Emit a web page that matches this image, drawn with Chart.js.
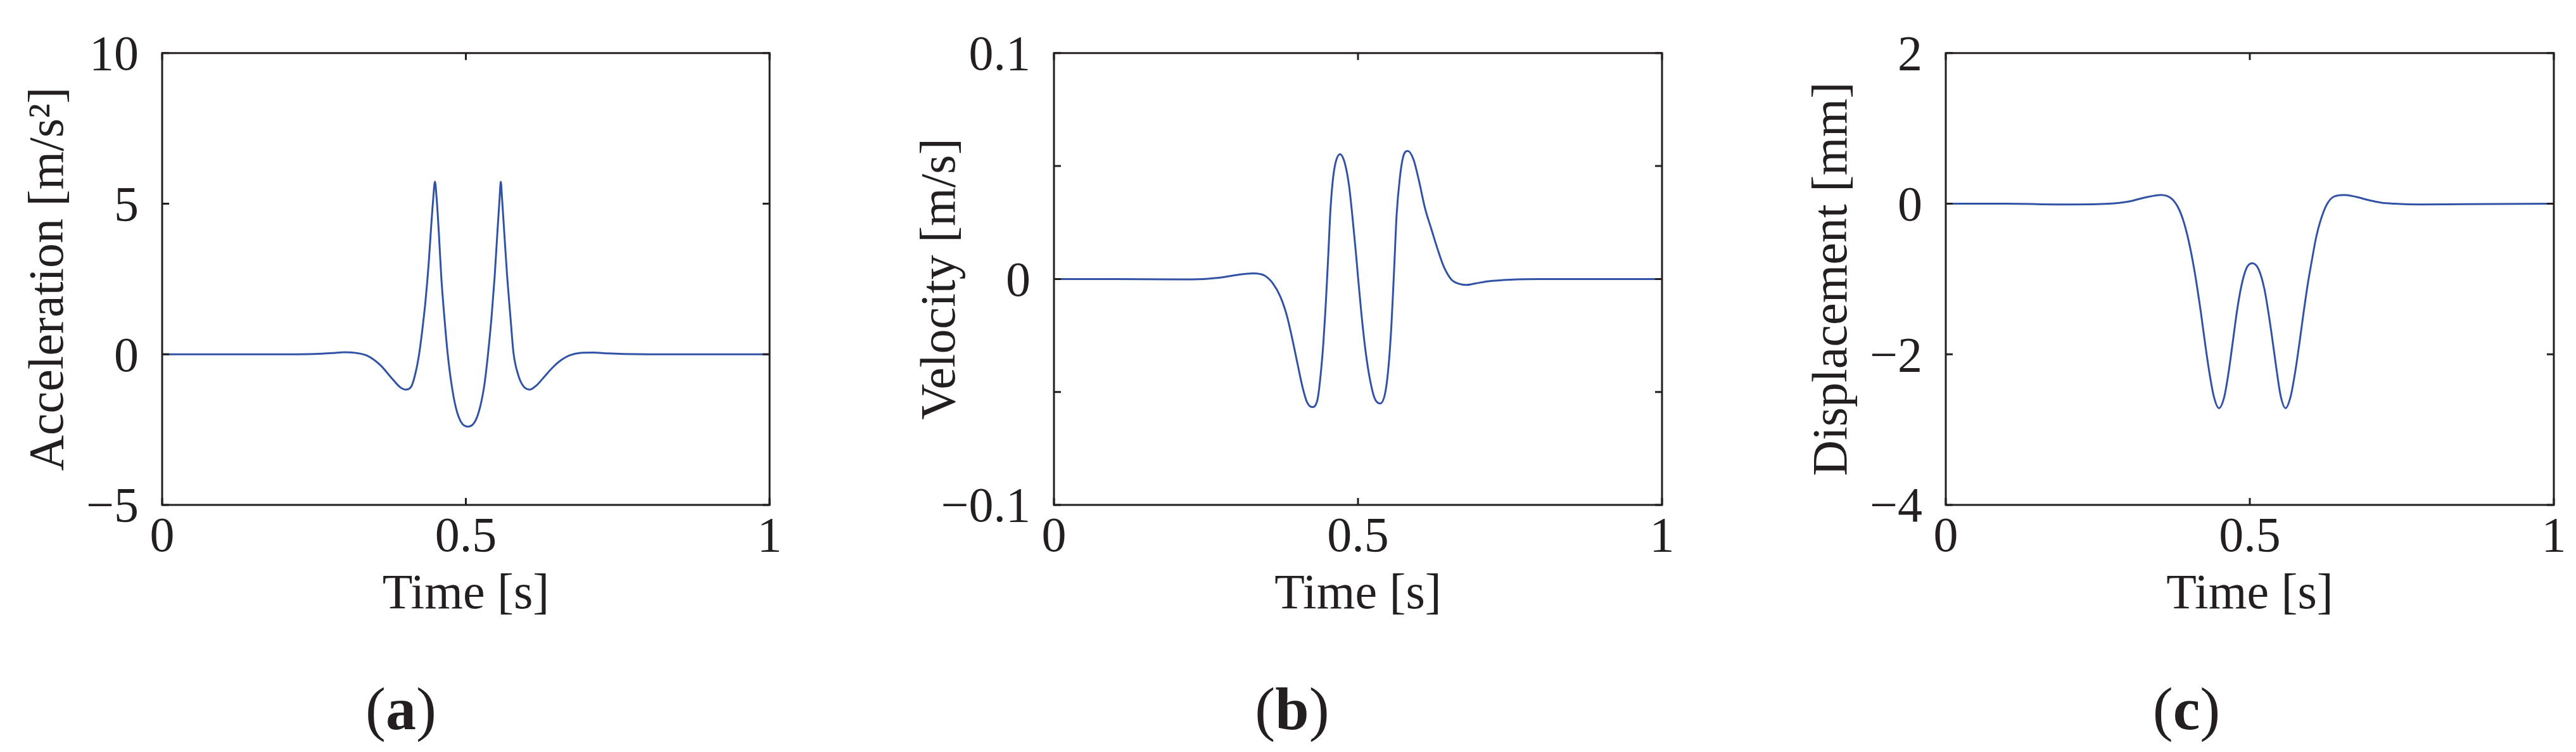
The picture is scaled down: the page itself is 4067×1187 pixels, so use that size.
<!DOCTYPE html>
<html>
<head>
<meta charset="utf-8">
<script src="https://cdn.jsdelivr.net/npm/chart.js@4.4.1/dist/chart.umd.min.js"></script>
<style>
  html, body { margin: 0; padding: 0; background: #fff; }
  body { width: 4067px; height: 1187px; position: relative; overflow: hidden; }
  canvas { position: absolute; top: 0; }
  .tag { position: absolute; top: 1119px; transform: translate(-50%, -50%); font-family: 'Liberation Serif', serif; font-size: 96px; line-height: 1; color: #231f20; white-space: nowrap; }
</style>
</head>
<body>
<canvas id="accChart" width="1408" height="1187" style="left:0px"></canvas>
<canvas id="velChart" width="1408" height="1187" style="left:1408px"></canvas>
<canvas id="dispChart" width="1251" height="1187" style="left:2816px"></canvas>
<div class="tag" style="left:633px">(<b>a</b>)</div>
<div class="tag" style="left:2040px">(<b>b</b>)</div>
<div class="tag" style="left:3452px">(<b>c</b>)</div>
<script>
// values
var timeTicks = [0, 0.5, 1]
var timeTickLabels = ['0', '0.5', '1']

var accTime = [0, 0.1, 0.2, 0.25, 0.28, 0.3, 0.317, 0.338, 0.3587, 0.3796,
  0.3917, 0.4004, 0.4101, 0.4178, 0.423, 0.4283, 0.4335, 0.4387, 0.4428, 0.4463,
  0.4491, 0.4519, 0.4554, 0.4595, 0.4647, 0.4699, 0.4762, 0.4838, 0.4925, 0.5036,
  0.5151, 0.5238, 0.5308, 0.5367, 0.5422, 0.5474, 0.552, 0.5555, 0.5575, 0.5596,
  0.5631, 0.568, 0.5735, 0.5784, 0.5863, 0.5951, 0.6055, 0.6159, 0.6298, 0.6437,
  0.6577, 0.6715, 0.689, 0.71, 0.734, 0.76, 0.8, 0.9, 1]
var accel = [0, 0, 0, 0.01, 0.04, 0.07, 0.05, -0.05, -0.35, -0.83,
  -1.09, -1.17, -1.07, -0.56, 0, 0.81, 1.76, 2.99, 4.22, 5.17,
  5.73, 5.17, 4.08, 2.58, 1.21, 0.05, -0.97, -1.79, -2.26, -2.40,
  -2.23, -1.72, -0.97, 0.05, 1.21, 2.58, 4.08, 5.17, 5.73, 5.17,
  4.08, 2.58, 1.21, 0.05, -0.69, -1.07, -1.17, -1.04, -0.73, -0.42,
  -0.18, -0.03, 0.05, 0.06, 0.03, 0.01, 0, 0, 0]
var accTicks = [-5, 0, 5, 10]
var accTickLabels = ['\u22125', '0', '5', '10']

var velTime = [0, 0.1, 0.2, 0.2458, 0.2806, 0.3014, 0.3274, 0.3465, 0.3604, 0.3726,
  0.383, 0.3917, 0.4003, 0.409, 0.416, 0.4247, 0.4333, 0.4385, 0.4431, 0.4465,
  0.449, 0.4514, 0.4542, 0.4583, 0.4628, 0.4705, 0.4785, 0.4854, 0.4906, 0.4958,
  0.5003, 0.5056, 0.5115, 0.5184, 0.5271, 0.5365, 0.5451, 0.5507, 0.5549, 0.5576,
  0.5601, 0.5635, 0.5688, 0.574, 0.5819, 0.5913, 0.6, 0.6104, 0.6208, 0.6313,
  0.6417, 0.6538, 0.666, 0.6781, 0.6938, 0.7146, 0.75, 0.8, 0.9, 1]
var velocity = [0, 0, -0.0002, 0, 0.0009, 0.0018, 0.0025, 0.0015, -0.0021, -0.008,
  -0.0162, -0.0262, -0.0372, -0.0481, -0.0544, -0.0567, -0.0535, -0.0426, -0.0281, -0.0135,
  -0.0008, 0.012, 0.0283, 0.0429, 0.0511, 0.0552, 0.0511, 0.0411, 0.0283, 0.0138,
  0.0001, -0.0153, -0.0299, -0.0426, -0.0526, -0.0551, -0.0499, -0.0372, -0.0208, -0.0062,
  0.0083, 0.0283, 0.0447, 0.0538, 0.0567, 0.0529, 0.0438, 0.0311, 0.022, 0.0129,
  0.0051, -0.0003, -0.0021, -0.0026, -0.0019, -0.001, -0.0003, 0, 0, 0]
var velTicks = [-0.1, -0.05, 0, 0.05, 0.1]
var velTickLabels = ['\u22120.1', '', '0', '', '0.1']

var dispTime = [0, 0.1, 0.2, 0.2688, 0.3, 0.3278, 0.3538, 0.3712, 0.3833, 0.392,
  0.399, 0.4059, 0.4128, 0.4198, 0.4267, 0.4337, 0.4406, 0.4493, 0.458, 0.4649,
  0.4719, 0.4788, 0.4858, 0.4944, 0.5042, 0.5146, 0.524, 0.5309, 0.5378, 0.5448,
  0.5507, 0.5587, 0.5674, 0.5743, 0.5813, 0.5882, 0.5951, 0.6021, 0.609, 0.616,
  0.6264, 0.6385, 0.6559, 0.675, 0.6958, 0.7167, 0.7375, 0.78, 0.85, 1]
var displacement = [0, 0, -0.01, 0, 0.027, 0.082, 0.117, 0.068, -0.069, -0.259,
  -0.478, -0.751, -1.078, -1.46, -1.87, -2.251, -2.551, -2.715, -2.565, -2.251,
  -1.842, -1.432, -1.105, -0.859, -0.791, -0.873, -1.133, -1.46, -1.842, -2.251,
  -2.551, -2.715, -2.551, -2.251, -1.87, -1.46, -1.078, -0.751, -0.45, -0.232,
  -0.014, 0.095, 0.117, 0.09, 0.046, 0.013, 0, -0.01, -0.005, 0]
var dispTicks = [-4, -2, 0, 2]
var dispTickLabels = ['\u22124', '\u22122', '0', '2']

var INK = '#231f20'
var CURVE = '#3253a5'
var FONT = 'Liberation Serif'

// matlab style box with inward ticks on all four sides
var boxTicks = {
  id: 'boxTicks',
  afterDatasetsDraw: function (chart) {
    var ctx = chart.ctx
    var a = chart.chartArea
    var xs = chart.scales.x
    var ys = chart.scales.y
    var len = 11
    ctx.save()
    ctx.strokeStyle = INK
    ctx.lineWidth = 3
    ctx.beginPath()
    xs.ticks.forEach(function (t) {
      var px = xs.getPixelForValue(t.value)
      ctx.moveTo(px, a.bottom); ctx.lineTo(px, a.bottom - len)
      ctx.moveTo(px, a.top); ctx.lineTo(px, a.top + len)
    })
    ys.ticks.forEach(function (t) {
      var py = ys.getPixelForValue(t.value)
      ctx.moveTo(a.left, py); ctx.lineTo(a.left + len, py)
      ctx.moveTo(a.right, py); ctx.lineTo(a.right - len, py)
    })
    ctx.stroke()
    ctx.strokeRect(a.left, a.top, a.right - a.left, a.bottom - a.top)
    ctx.restore()
  }
}

function makePanel (id, time, values, yTicks, yLabels, yTitle, rightPad) {
  var points = time.map(function (t, i) { return {x: t, y: values[i]} })
  return new Chart(document.getElementById(id), {
    type: 'line',
    data: {
      datasets: [{
        data: points,
        borderColor: CURVE,
        borderWidth: 3,
        pointRadius: 0,
        fill: false,
        cubicInterpolationMode: 'monotone'
      }]
    },
    options: {
      responsive: false,
      animation: false,
      devicePixelRatio: 1,
      layout: { padding: { left: 0, top: 64, right: rightPad, bottom: 0 } },
      plugins: { legend: { display: false }, tooltip: { enabled: false } },
      scales: {
        x: {
          type: 'linear',
          min: timeTicks[0],
          max: timeTicks[timeTicks.length - 1],
          afterBuildTicks: function (s) { s.ticks = timeTicks.map(function (v) { return {value: v} }) },
          afterFit: function (s) { s.height = 390 },
          grid: { display: false, drawTicks: false },
          border: { display: false },
          ticks: {
            autoSkip: false,
            maxRotation: 0,
            padding: 6,
            color: INK,
            font: { family: FONT, size: 78 },
            callback: function (v, i) { return timeTickLabels[i] }
          },
          title: {
            display: true,
            text: 'Time [s]',
            color: INK,
            font: { family: FONT, size: 78 },
            padding: { top: 0, bottom: 201 }
          }
        },
        y: {
          type: 'linear',
          min: yTicks[0],
          max: yTicks[yTicks.length - 1],
          afterBuildTicks: function (s) { s.ticks = yTicks.map(function (v) { return {value: v} }) },
          afterFit: function (s) { s.width = 256 },
          grid: { display: false, drawTicks: false },
          border: { display: false },
          ticks: {
            autoSkip: false,
            padding: 37,
            labelOffset: 6,
            color: INK,
            font: { family: FONT, size: 78 },
            callback: function (v, i) { return yLabels[i] }
          },
          title: {
            display: true,
            text: yTitle,
            color: INK,
            font: { family: FONT, size: 78 },
            padding: { top: 32, bottom: 0 }
          }
        }
      }
    },
    plugins: [boxTicks]
  })
}

makePanel('accChart', accTime, accel, accTicks, accTickLabels, 'Acceleration [m/s\u00b2]', 193)
makePanel('velChart', velTime, velocity, velTicks, velTickLabels, 'Velocity [m/s]', 192)
makePanel('dispChart', dispTime, displacement, dispTicks, dispTickLabels, 'Displacement [mm]', 35)
</script>
</body>
</html>
